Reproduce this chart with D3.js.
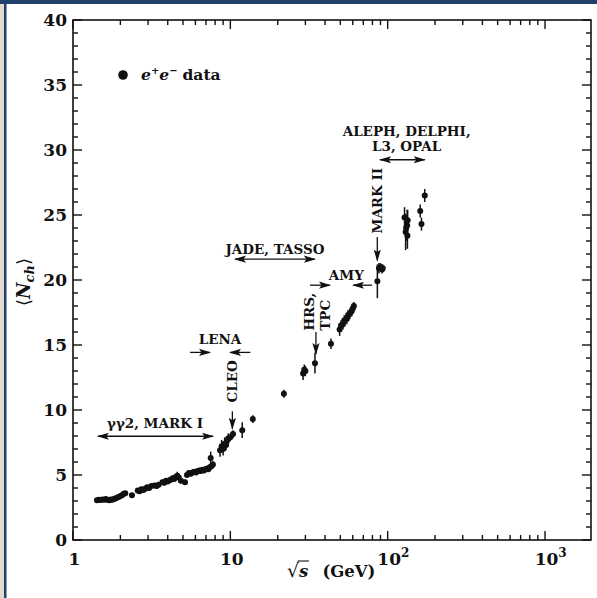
<!DOCTYPE html>
<html>
<head>
<meta charset="utf-8">
<script src="https://cdn.jsdelivr.net/npm/d3@7"></script>
<style>
  html, body { margin: 0; padding: 0; background: #fff; }
  svg { display: block; }
  text { font-family: "DejaVu Serif", "Liberation Serif", serif; font-weight: bold; fill: #111; }
</style>
</head>
<body>
<div id="chart"></div>
<script>
// ---- data ----
// sqrt(s) in GeV
const energy = [
  1.42, 1.46, 1.50, 1.54, 1.58, 1.62, 1.66, 1.70, 1.74, 1.78, 1.82, 1.86, 1.90, 1.95, 2.00, 2.05, 2.10, 2.15,
  2.37,
  2.58, 2.65, 2.72, 2.80, 2.88, 2.96, 3.05, 3.15, 3.30, 3.40, 3.50, 3.70, 3.80, 3.90, 4.00, 4.10, 4.20, 4.30,
  4.40, 4.50, 4.60, 4.70, 4.85, 5.15, 5.30, 5.45, 5.60, 5.75, 5.90, 6.05, 6.20, 6.35, 6.50, 6.65, 6.80, 6.95,
  7.10, 7.25, 7.40, 7.50, 7.60, 7.75,
  8.6, 8.8, 9.0, 9.2, 9.4, 9.5, 9.7, 10.0, 10.4, 11.9, 13.9, 21.9,
  29.0, 29.5, 30.0, 34.5, 43.6, 49.5, 50.5, 52.0, 53.0, 55.0, 56.0, 57.5, 59.0, 60.0, 61.0,
  86.0, 88.0, 90.0, 92.0, 93.0,
  128, 130, 131, 133, 133.5, 134, 161, 164, 172
]
// mean charged multiplicity
const nch = [
  3.05, 3.10, 3.08, 3.12, 3.10, 3.15, 3.08, 3.05, 3.12, 3.10, 3.15, 3.20, 3.25, 3.30, 3.38, 3.45, 3.55, 3.60,
  3.45,
  3.80, 3.75, 3.90, 3.85, 3.95, 4.05, 4.00, 4.15, 4.20, 4.15, 4.25, 4.45, 4.40, 4.55, 4.50, 4.60, 4.65, 4.75,
  4.70, 4.85, 4.95, 4.80, 4.55, 4.45, 5.00, 5.15, 5.10, 5.20, 5.25, 5.20, 5.30, 5.35, 5.30, 5.40, 5.35, 5.45,
  5.50, 5.45, 5.60, 6.30, 5.70, 5.80,
  6.9, 7.2, 7.0, 7.4, 7.3, 7.6, 7.8, 7.9, 8.15, 8.45, 9.3, 11.25,
  12.8, 13.1, 13.0, 13.6, 15.1, 16.2, 16.5, 16.6, 16.9, 17.0, 17.3, 17.4, 17.6, 17.8, 18.0,
  19.9, 20.9, 21.0, 20.8, 20.9,
  24.8, 23.7, 24.0, 24.2, 23.4, 24.6, 25.3, 24.3, 26.5
]
// error bar half lengths
const nchErr = [
  0.15, 0.15, 0.15, 0.15, 0.15, 0.15, 0.15, 0.15, 0.15, 0.15, 0.15, 0.15, 0.15, 0.15, 0.15, 0.15, 0.15, 0.15,
  0.15,
  0.2, 0.2, 0.2, 0.2, 0.2, 0.2, 0.2, 0.2, 0.2, 0.2, 0.2, 0.2, 0.2, 0.2, 0.2, 0.2, 0.2, 0.2,
  0.2, 0.2, 0.3, 0.2, 0.2, 0.2, 0.2, 0.2, 0.2, 0.2, 0.2, 0.2, 0.2, 0.2, 0.2, 0.2, 0.2, 0.2,
  0.2, 0.2, 0.2, 0.5, 0.2, 0.3,
  0.5, 0.5, 0.5, 0.5, 0.4, 0.4, 0.4, 0.3, 0.3, 0.6, 0.3, 0.3,
  0.5, 0.4, 0.4, 0.8, 0.4, 0.5, 0.4, 0.4, 0.4, 0.4, 0.4, 0.4, 0.4, 0.4, 0.3,
  1.3, 0.4, 0.3, 0.3, 0.3,
  0.8, 1.4, 1.0, 1.2, 1.0, 0.8, 0.5, 0.5, 0.5
]

const yTicks = [0, 5, 10, 15, 20, 25, 30, 35, 40]
const xMajor = [1, 10, 100, 1000]
const xMajorLabels = [['1', ''], ['10', ''], ['10', '2'], ['10', '3']]

// annotations, in data units (energy, Nch)
const textNotes = [
  { t: 'γγ2, MARK I', e: 3.32, n: 8.6 },
  { t: 'LENA', e: 8.6, n: 15.05 },
  { t: 'JADE, TASSO', e: 19.2, n: 22.0 },
  { t: 'AMY', e: 54.6, n: 20.0 },
  { t: 'ALEPH, DELPHI,', e: 132, n: 31.1 },
  { t: 'L3, OPAL', e: 132, n: 29.9 }
]
const vertNotes = [
  { t: 'CLEO', e: 10.3, n: 12.2 },
  { t: 'MARK II', e: 85.9, n: 26.1 }
]
// arrows: from (e0,n0) to (e1,n1), both = double headed
const arrows = [
  { e0: 1.44, n0: 7.98, e1: 7.77, n1: 7.98, both: true },
  { e0: 5.55, n0: 14.43, e1: 7.43, n1: 14.43 },
  { e0: 13.4, n0: 14.43, e1: 9.95, n1: 14.43 },
  { e0: 10.3, n0: 9.9, e1: 10.3, n1: 8.55 },
  { e0: 10.7, n0: 21.6, e1: 34.5, n1: 21.6, both: true },
  { e0: 35, n0: 16.0, e1: 35, n1: 14.3 },
  { e0: 32.1, n0: 19.6, e1: 43.0, n1: 19.6 },
  { e0: 79.6, n0: 19.6, e1: 60.3, n1: 19.6 },
  { e0: 85.9, n0: 23.3, e1: 85.9, n1: 21.5 },
  { e0: 89.5, n0: 29.25, e1: 172, n1: 29.25, both: true }
]

const W = 597, H = 598
const m = { l: 73, r: 591, t: 20, b: 540 }

const x = d3.scaleLog().domain([1, 1960]).range([m.l, m.r])
const y = d3.scaleLinear().domain([0, 40]).range([m.b, m.t])

const svg = d3.select('#chart').append('svg')
  .attr('width', W).attr('height', H)
  .attr('viewBox', [0, 0, W, H])

// outer picture border
svg.append('rect').attr('x', 0).attr('y', 0).attr('width', 4).attr('height', H).attr('fill', '#e5dad0')
svg.append('rect').attr('x', 4).attr('y', 0).attr('width', 2.5).attr('height', H).attr('fill', '#22416a')
svg.append('rect').attr('x', 0).attr('y', 0).attr('width', W).attr('height', 4).attr('fill', '#22416a')

const defs = svg.append('defs')
defs.append('marker')
  .attr('id', 'head')
  .attr('markerUnits', 'userSpaceOnUse')
  .attr('viewBox', '0 -5 12 10')
  .attr('refX', 11).attr('refY', 0)
  .attr('markerWidth', 12).attr('markerHeight', 10)
  .attr('orient', 'auto-start-reverse')
  .append('path')
  .attr('d', 'M0,-3.6L12,0L0,3.6L2.5,0Z')
  .attr('fill', '#111')

// frame
const axisG = svg.append('g')
axisG.append('rect')
  .attr('x', m.l).attr('y', m.t)
  .attr('width', m.r - m.l).attr('height', m.b - m.t)
  .attr('fill', 'none').attr('stroke', '#111').attr('stroke-width', 1.6)

// log ticks on bottom and top (inward)
const xTickVals = []
for (let dec = 1; dec <= 1000; dec *= 10) {
  for (let k = 1; k <= 9; k++) {
    const v = dec * k
    if (v <= 1960) xTickVals.push(v)
  }
}
xTickVals.forEach(v => {
  const major = xMajor.includes(v)
  const len = major ? 9 : 5
  const px = x(v)
  axisG.append('line').attr('x1', px).attr('x2', px).attr('y1', m.b).attr('y2', m.b - len)
    .attr('stroke', '#111').attr('stroke-width', 1.4)
  axisG.append('line').attr('x1', px).attr('x2', px).attr('y1', m.t).attr('y2', m.t + len)
    .attr('stroke', '#111').attr('stroke-width', 1.4)
})

// linear ticks on left and right (inward)
d3.range(0, 41, 1).forEach(v => {
  const major = v % 5 === 0
  const len = major ? 9 : 5
  const py = y(v)
  axisG.append('line').attr('x1', m.l).attr('x2', m.l + len).attr('y1', py).attr('y2', py)
    .attr('stroke', '#111').attr('stroke-width', 1.4)
  axisG.append('line').attr('x1', m.r).attr('x2', m.r - len).attr('y1', py).attr('y2', py)
    .attr('stroke', '#111').attr('stroke-width', 1.4)
})

// tick labels
svg.append('g').selectAll('text')
  .data(yTicks)
  .join('text')
  .attr('x', 67)
  .attr('y', d => y(d))
  .attr('dy', '0.36em')
  .attr('text-anchor', 'end')
  .style('font-size', '17px')
  .text(d => d)

xMajor.forEach((v, i) => {
  const [base, sup] = xMajorLabels[i]
  const t = svg.append('text')
    .attr('x', x(v) + 1.5).attr('y', 565)
    .attr('text-anchor', 'middle')
    .style('font-size', '17px')
    .text(base)
  if (sup) {
    const w = t.node().getComputedTextLength()
    svg.append('text')
      .attr('x', x(v) + 1.5 + w / 2).attr('y', 557)
      .style('font-size', '12px')
      .text(sup)
  }
})

// axis titles
const xt = svg.append('text').attr('x', 287).attr('y', 577).style('font-size', '16.5px')
xt.append('tspan').style('font-weight', 'normal').style('font-size', '19px').text('√')
xt.append('tspan').style('font-style', 'italic').text('s')
xt.append('tspan').attr('dx', 14).text('(GeV)')
{
  const r = xt.node().getExtentOfChar(0)
  const s = xt.node().getExtentOfChar(1)
  svg.append('line')
    .attr('x1', r.x + r.width - 1.5).attr('x2', s.x + s.width + 0.5)
    .attr('y1', r.y + 2).attr('y2', r.y + 2)
    .attr('stroke', '#111').attr('stroke-width', 1.1)
}

const yt = svg.append('text')
  .attr('transform', 'translate(30,282) rotate(-90)')
  .attr('text-anchor', 'middle')
  .style('font-size', '18px')
yt.append('tspan').style('font-weight', 'normal').text('⟨')
yt.append('tspan').style('font-style', 'italic').text('N')
yt.append('tspan').style('font-style', 'italic').style('font-size', '13px').attr('dy', 4).text('ch')
yt.append('tspan').style('font-weight', 'normal').attr('dy', -4).text('⟩')

// data with error bars
const pts = energy.map((e, i) => ({ e, n: nch[i], err: nchErr[i] }))
const dataG = svg.append('g')
dataG.selectAll('line')
  .data(pts)
  .join('line')
  .attr('x1', d => x(d.e)).attr('x2', d => x(d.e))
  .attr('y1', d => y(d.n - d.err)).attr('y2', d => y(d.n + d.err))
  .attr('stroke', '#111').attr('stroke-width', 1.5)
dataG.selectAll('circle')
  .data(pts)
  .join('circle')
  .attr('cx', d => x(d.e)).attr('cy', d => y(d.n))
  .attr('r', 3)
  .attr('fill', '#111')

// annotations
const noteG = svg.append('g')
noteG.selectAll('text.h')
  .data(textNotes)
  .join('text')
  .attr('class', 'h')
  .attr('x', d => x(d.e)).attr('y', d => y(d.n))
  .attr('text-anchor', 'middle')
  .style('font-size', '13.5px')
  .text(d => d.t)

noteG.selectAll('text.v')
  .data(vertNotes)
  .join('text')
  .attr('class', 'v')
  .attr('transform', d => `translate(${x(d.e)},${y(d.n)}) rotate(-90)`)
  .attr('dy', '0.36em')
  .attr('text-anchor', 'middle')
  .style('font-size', '13.5px')
  .text(d => d.t)

// HRS, TPC two-line rotated label
const hrs = noteG.append('text')
  .attr('transform', `translate(${x(35)},${y(16.1)}) rotate(-90)`)
  .style('font-size', '13.5px')
hrs.append('tspan').attr('x', 0).attr('dy', '-0.15em').text('HRS,')
hrs.append('tspan').attr('x', 0).attr('dy', '1.2em').text('TPC')

noteG.selectAll('line')
  .data(arrows)
  .join('line')
  .attr('x1', d => x(d.e0)).attr('y1', d => y(d.n0))
  .attr('x2', d => x(d.e1)).attr('y2', d => y(d.n1))
  .attr('stroke', '#111').attr('stroke-width', 1.3)
  .attr('marker-end', 'url(#head)')
  .attr('marker-start', d => d.both ? 'url(#head)' : null)

// legend
svg.append('circle').attr('cx', 123).attr('cy', 75).attr('r', 4.8).attr('fill', '#111')
const lg = svg.append('text').attr('x', 141).attr('y', 80).style('font-size', '15.5px')
lg.append('tspan').style('font-style', 'italic').text('e')
lg.append('tspan').attr('dy', -6).style('font-size', '10px').text('+')
lg.append('tspan').attr('dy', 6).style('font-style', 'italic').text('e')
lg.append('tspan').attr('dy', -6).style('font-size', '10px').text('−')
lg.append('tspan').attr('dy', 6).attr('dx', 5).text('data')
</script>
</body>
</html>
